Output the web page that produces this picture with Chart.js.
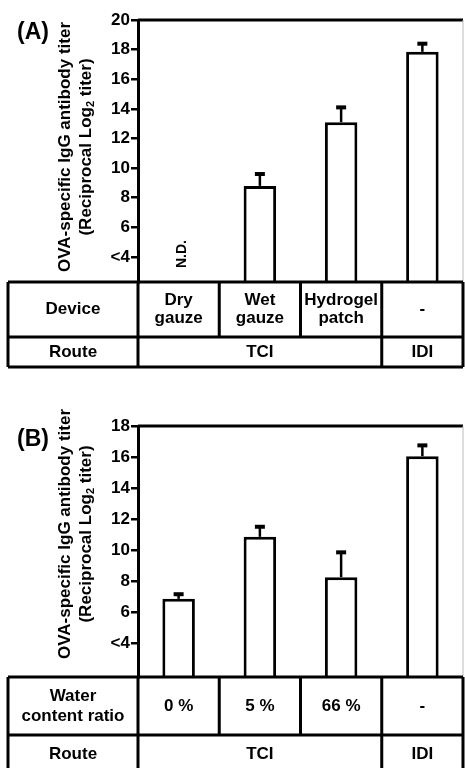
<!DOCTYPE html>
<html>
<head>
<meta charset="utf-8">
<script src="https://cdn.jsdelivr.net/npm/chart.js@4"></script>
<style>
  body { margin: 0; background: #fff; }
  #wrap { position: relative; width: 465px; height: 768px; }
  canvas { position: absolute; left: 0; }
</style>
</head>
<body>
<div id="wrap">
  <canvas id="chartA" width="465" height="384" style="top:0"></canvas>
  <canvas id="chartB" width="465" height="384" style="top:384px"></canvas>
</div>
<script>
// panel A data
const devicesA = [["Dry", "gauze"], ["Wet", "gauze"], ["Hydrogel", "patch"], ["-"]];
const titerA = [null, 8.8, 13.1, 17.85];
const errorA = [null, 0.8, 1.0, 0.55];
const ticksA = [4, 6, 8, 10, 12, 14, 16, 18, 20];

// panel B data
const waterB = [["0 %"], ["5 %"], ["66 %"], ["-"]];
const titerB = [6.85, 10.85, 8.25, 16.05];
const errorB = [0.3, 0.65, 1.6, 0.7];
const ticksB = [4, 6, 8, 10, 12, 14, 16, 18];

// shared route row
const routeLabels = ["TCI", "IDI"];
const routeSpans = [3, 1];

const FONT = '"Liberation Sans", Arial, sans-serif';
Chart.defaults.color = "#000";

function panelPlugin(cfg) {
  return {
    id: "panel" + cfg.tag,
    afterDatasetsDraw(chart) {
      // error bars (upper only)
      const ctx = chart.ctx;
      const meta = chart.getDatasetMeta(0);
      const yScale = chart.scales.y;
      ctx.save();
      ctx.strokeStyle = "#000";
      cfg.values.forEach((v, i) => {
        if (v === null) return;
        const bar = meta.data[i];
        const yEnd = yScale.getPixelForValue(v + cfg.errors[i]);
        ctx.lineWidth = 2.5;
        ctx.beginPath();
        ctx.moveTo(bar.x, bar.y);
        ctx.lineTo(bar.x, yEnd);
        ctx.stroke();
        ctx.lineWidth = 4;
        ctx.beginPath();
        ctx.moveTo(bar.x - 5, yEnd);
        ctx.lineTo(bar.x + 5, yEnd);
        ctx.stroke();
      });
      ctx.restore();
    },
    afterDraw(chart) {
      const ctx = chart.ctx;
      const area = chart.chartArea;
      const xScale = chart.scales.x;
      ctx.save();
      ctx.strokeStyle = "#000";

      // top frame line, faint right edge
      ctx.lineWidth = 3;
      ctx.beginPath();
      ctx.moveTo(area.left, area.top);
      ctx.lineTo(area.right, area.top);
      ctx.stroke();
      ctx.lineWidth = 1;
      ctx.strokeStyle = "#bbb";
      ctx.beginPath();
      ctx.moveTo(area.right, area.top);
      ctx.lineTo(area.right, area.bottom);
      ctx.stroke();
      ctx.strokeStyle = "#000";

      // panel letter
      ctx.fillStyle = "#000";
      ctx.font = "bold 23px " + FONT;
      ctx.textAlign = "left";
      ctx.textBaseline = "middle";
      ctx.fillText(cfg.letter, 17, cfg.letterY);

      // y axis title, two rotated lines
      ctx.save();
      ctx.translate(65, cfg.titleY);
      ctx.rotate(-Math.PI / 2);
      ctx.font = "bold 17px " + FONT;
      ctx.textAlign = "center";
      ctx.fillText("OVA-specific IgG antibody titer", 0, 0);
      ctx.restore();

      ctx.save();
      ctx.translate(86, cfg.titleY);
      ctx.rotate(-Math.PI / 2);
      const partA = "(Reciprocal Log";
      const partB = " titer)";
      ctx.font = "bold 17px " + FONT;
      const wA = ctx.measureText(partA).width;
      const wC = ctx.measureText(partB).width;
      ctx.font = "bold 11px " + FONT;
      const wB = ctx.measureText("2").width;
      let x0 = -(wA + wB + wC) / 2;
      ctx.textAlign = "left";
      ctx.font = "bold 17px " + FONT;
      ctx.fillText(partA, x0, 0);
      ctx.font = "bold 11px " + FONT;
      ctx.fillText("2", x0 + wA, 5);
      ctx.font = "bold 17px " + FONT;
      ctx.fillText(partB, x0 + wA + wB, 0);
      ctx.restore();

      // N.D. marker for missing values
      cfg.values.forEach((v, i) => {
        if (v !== null) return;
        ctx.save();
        ctx.translate(xScale.getPixelForValue(i) + 4, area.bottom - 28);
        ctx.rotate(-Math.PI / 2);
        ctx.font = "bold 14px " + FONT;
        ctx.textAlign = "center";
        ctx.fillText("N.D.", 0, 0);
        ctx.restore();
      });

      // table under the plot
      const n = cfg.cells.length;
      const colX = [];
      for (let i = 0; i <= n; i++) {
        colX.push(area.left + (area.right - area.left) * i / n);
      }
      const tLeft = 8;
      const y0 = area.bottom;
      const y1 = y0 + cfg.row1H;
      const y2 = y1 + cfg.row2H;

      ctx.lineWidth = 3;
      ctx.beginPath();
      [y0, y1, y2].forEach((y) => {
        ctx.moveTo(tLeft, y);
        ctx.lineTo(area.right, y);
      });
      ctx.moveTo(tLeft, y0); ctx.lineTo(tLeft, y2);
      ctx.moveTo(area.left, y0); ctx.lineTo(area.left, y2);
      ctx.moveTo(area.right, y0); ctx.lineTo(area.right, y2);
      for (let i = 1; i < n; i++) {
        ctx.moveTo(colX[i], y0);
        ctx.lineTo(colX[i], y1);
      }
      let acc = 0;
      routeSpans.forEach((s, k) => {
        acc += s;
        if (k < routeSpans.length - 1) {
          ctx.moveTo(colX[acc], y1);
          ctx.lineTo(colX[acc], y2);
        }
      });
      ctx.stroke();

      ctx.font = "bold 17px " + FONT;
      ctx.textAlign = "center";
      ctx.textBaseline = "middle";
      const labelX = (tLeft + area.left) / 2;
      const mid1 = (y0 + y1) / 2;
      const drawLines = (lines, x, yc) => {
        lines.forEach((t, j) => {
          ctx.fillText(t, x, yc + (j - (lines.length - 1) / 2) * cfg.lineH);
        });
      };
      drawLines(cfg.rowLabel, labelX, mid1);
      cfg.cells.forEach((lines, i) => {
        drawLines(lines, (colX[i] + colX[i + 1]) / 2, mid1);
      });

      const mid2 = y1 + cfg.routeOffset;
      ctx.fillText("Route", labelX, mid2);
      let start = 0;
      routeLabels.forEach((t, k) => {
        const end = start + routeSpans[k];
        ctx.fillText(t, (colX[start] + colX[end]) / 2, mid2);
        start = end;
      });
      ctx.restore();
    }
  };
}

function make_chart(id, cfg) {
  new Chart(document.getElementById(id), {
    type: "bar",
    data: {
      labels: cfg.cells.map((c) => c.join(" ")),
      datasets: [
        {
          data: cfg.values,
          backgroundColor: "#fff",
          borderColor: "#000",
          borderWidth: 3,
          barPercentage: 0.4,
          categoryPercentage: 1.0,
        },
      ],
    },
    options: {
      responsive: false,
      animation: false,
      devicePixelRatio: 1,
      layout: {
        autoPadding: false,
        padding: { top: cfg.top, right: 2, bottom: 0, left: 0 },
      },
      scales: {
        x: {
          grid: { display: false },
          border: { display: false },
          ticks: { display: false },
          afterFit: (scale) => { scale.height = 384 - cfg.bottom; },
        },
        y: {
          min: cfg.min,
          max: cfg.max,
          afterBuildTicks: (scale) => {
            scale.ticks = cfg.ticks.map((v) => ({ value: v }));
          },
          afterFit: (scale) => { scale.width = 138; },
          ticks: {
            callback: (v) => (v === 4 ? "<4" : v),
            font: { family: FONT, size: 17, weight: "bold" },
            color: "#000",
            padding: 1,
          },
          grid: {
            drawOnChartArea: false,
            drawTicks: true,
            tickLength: 7,
            color: "#000",
            lineWidth: 2.5,
          },
          border: { color: "#000", width: 3 },
        },
      },
      plugins: {
        legend: { display: false },
        tooltip: { enabled: false },
      },
    },
    plugins: [panelPlugin(cfg)],
  });
}

make_chart("chartA", {
  tag: "A", letter: "(A)", letterY: 33, titleY: 147,
  top: 20, bottom: 282, min: 2.31, max: 20, ticks: ticksA,
  values: titerA, errors: errorA, cells: devicesA,
  rowLabel: ["Device"], row1H: 55, row2H: 30, lineH: 18, routeOffset: 15,
});

make_chart("chartB", {
  tag: "B", letter: "(B)", letterY: 56, titleY: 150,
  top: 42, bottom: 293, min: 1.81, max: 18, ticks: ticksB,
  values: titerB, errors: errorB, cells: waterB,
  rowLabel: ["Water", "content ratio"], row1H: 58, row2H: 40, lineH: 20, routeOffset: 19,
});
</script>
</body>
</html>
